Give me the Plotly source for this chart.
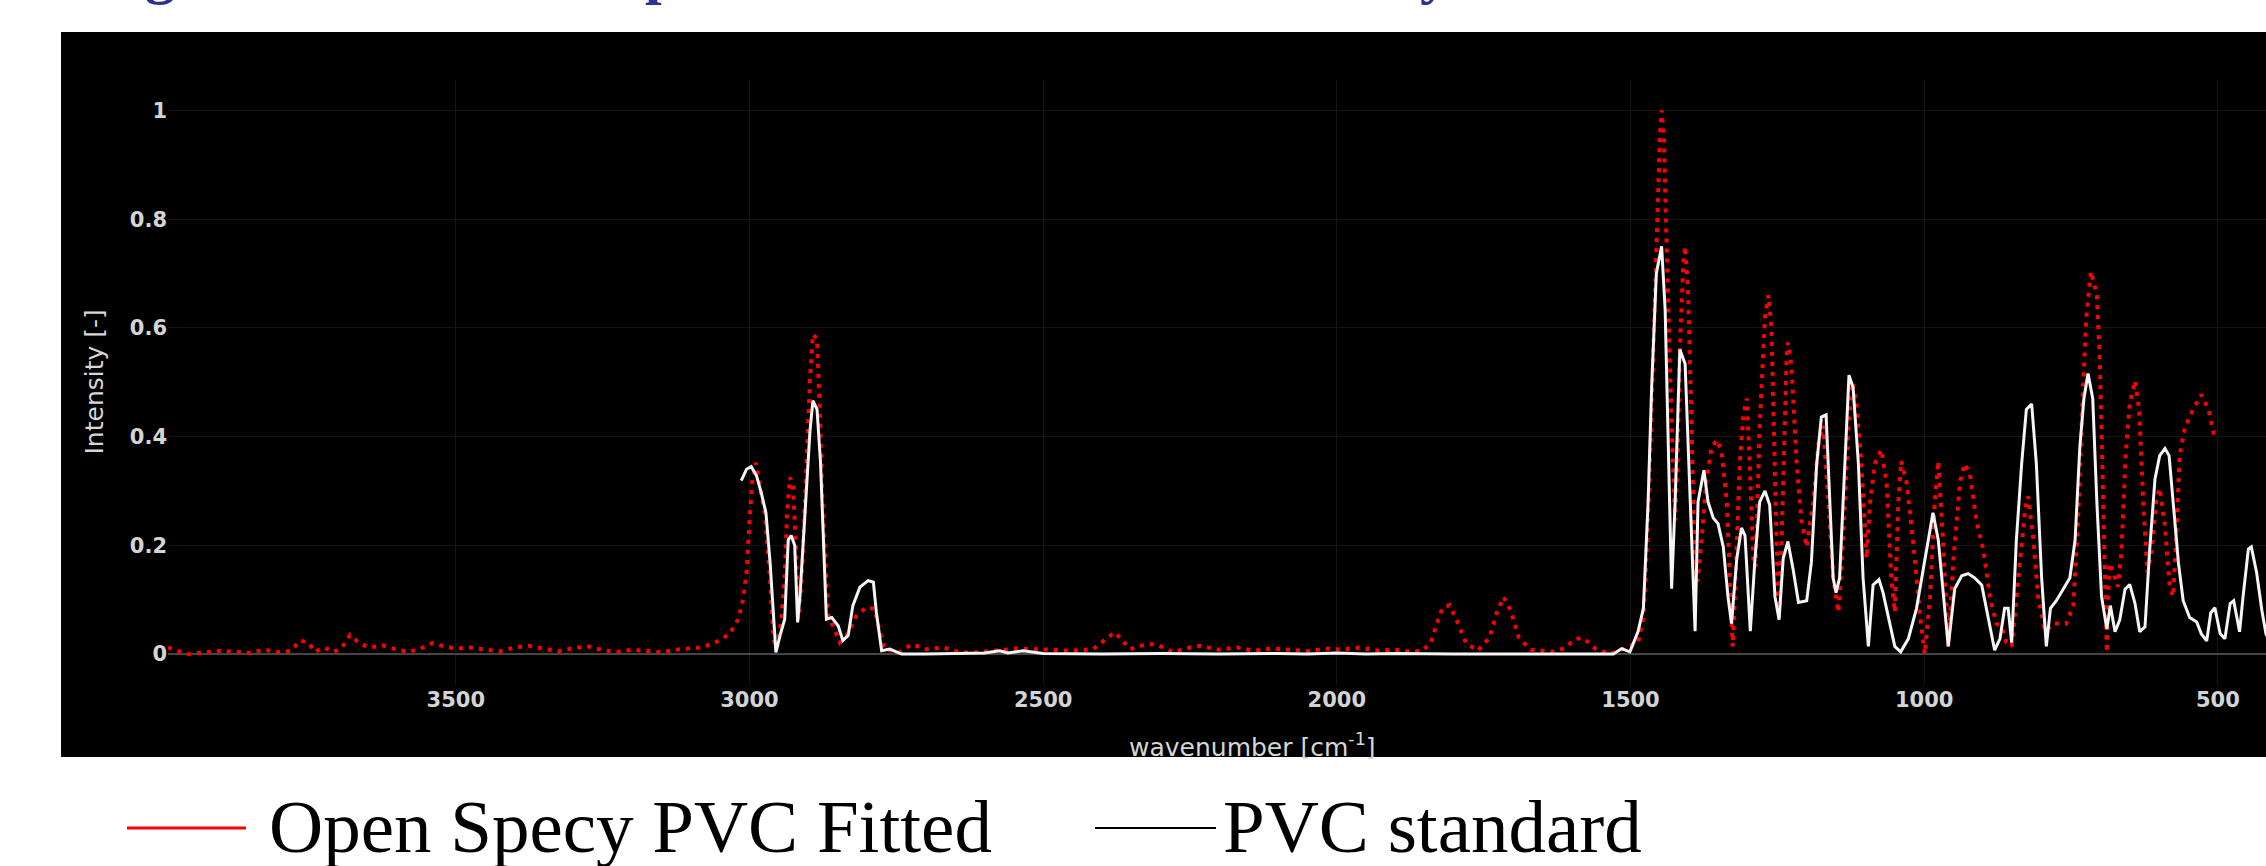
import plotly.graph_objects as go

# ---------------- data ----------------
wn_fit = [3990, 3975, 3955, 3930, 3900, 3875, 3850, 3825, 3800, 3780, 3765, 3750, 3740, 3725, 3708, 3695,
          3680, 3662, 3645, 3625, 3600, 3580, 3560, 3540, 3520, 3500, 3475, 3450, 3425, 3400, 3375, 3350,
          3325, 3300, 3275, 3250, 3225, 3200, 3175, 3150, 3125, 3100,
          3085, 3068, 3051, 3034, 3019, 3011, 3005, 2999, 2995, 2989, 2983, 2974, 2965, 2959, 2954, 2946,
          2940, 2936, 2931, 2926, 2921, 2917, 2911, 2904, 2897, 2892, 2885, 2880, 2876, 2870, 2866, 2858,
          2846, 2835, 2818, 2801, 2787, 2778, 2770, 2744, 2724, 2699, 2670, 2642, 2614, 2585, 2545, 2489,
          2455, 2415, 2392, 2378, 2352, 2324, 2307, 2279, 2250, 2233,
          2200, 2170, 2140, 2110, 2080, 2050, 2020, 1990, 1960, 1930, 1900, 1875, 1855, 1840, 1830, 1820,
          1808, 1795, 1780, 1760, 1740, 1728, 1716, 1704, 1690, 1670, 1650, 1630, 1610, 1598, 1585, 1572,
          1560, 1552, 1535, 1518, 1501, 1487, 1478, 1473, 1467, 1461, 1456, 1450, 1447, 1443, 1440,
          1436, 1430, 1424, 1420, 1416, 1410, 1407, 1402, 1396, 1390, 1386, 1379, 1371, 1362, 1353, 1345,
          1336, 1331, 1326, 1321, 1314, 1308, 1302, 1297, 1291, 1287, 1280, 1271, 1265, 1260, 1254, 1249,
          1246, 1240, 1234, 1232, 1226, 1217, 1209, 1200, 1189, 1180, 1172, 1163, 1155, 1146, 1138, 1129,
          1122, 1115, 1107, 1098, 1092, 1084, 1073, 1064, 1056, 1050, 1044, 1039, 1030, 1019, 1007, 999,
          990, 982, 976, 968, 959, 950, 939, 931, 922, 911, 899, 888, 877, 868, 860, 851,
          846, 837, 828, 823, 814, 806, 794, 780, 758, 746, 738, 731, 724, 716,
          706, 701, 695, 689, 685, 678, 670, 664, 657, 650, 641, 634, 627, 620, 613, 605,
          599, 590, 582, 576, 570, 565, 556, 542, 528, 516, 505]
int_fit = [0.012, 0.006, 0.000, 0.003, 0.006, 0.004, 0.002, 0.008, 0.003, 0.006, 0.025, 0.020, 0.004, 0.012, 0.004, 0.010,
           0.035, 0.018, 0.012, 0.016, 0.008, 0.004, 0.010, 0.020, 0.014, 0.010, 0.012, 0.008, 0.005, 0.012, 0.015, 0.010,
           0.005, 0.011, 0.014, 0.007, 0.004, 0.008, 0.006, 0.003, 0.008, 0.010,
           0.012, 0.017, 0.025, 0.037, 0.064, 0.100, 0.150, 0.260, 0.320, 0.352, 0.310, 0.260, 0.140, 0.028, 0.010, 0.060,
           0.140, 0.260, 0.325, 0.310, 0.200, 0.064, 0.140, 0.320, 0.505, 0.588, 0.580, 0.440, 0.290, 0.150, 0.070, 0.052,
           0.021, 0.034, 0.070, 0.086, 0.083, 0.040, 0.009, 0.003, 0.018, 0.009, 0.012, 0.003, 0.003, 0.006, 0.010, 0.008,
           0.006, 0.009, 0.028, 0.040, 0.009, 0.018, 0.018, 0.003, 0.012, 0.015,
           0.008, 0.012, 0.006, 0.010, 0.008, 0.005, 0.010, 0.008, 0.012, 0.006, 0.008, 0.004, 0.006, 0.020, 0.055, 0.085,
           0.090, 0.060, 0.020, 0.006, 0.030, 0.075, 0.105, 0.080, 0.030, 0.008, 0.006, 0.004, 0.012, 0.025, 0.030, 0.022,
           0.010, 0.007, 0.000, 0.007, 0.014, 0.021, 0.070, 0.176, 0.350, 0.560, 0.770, 0.950, 1.000, 0.950, 0.810,
           0.630, 0.420, 0.246, 0.350, 0.560, 0.720, 0.750, 0.670, 0.420, 0.140, 0.134, 0.210, 0.316, 0.380, 0.394, 0.373,
           0.280, 0.140, 0.014, 0.140, 0.350, 0.436, 0.470, 0.350, 0.176, 0.160, 0.420, 0.620, 0.660, 0.600, 0.350, 0.105,
           0.084, 0.350, 0.550, 0.573, 0.530, 0.350, 0.246, 0.197, 0.280, 0.387, 0.420, 0.280, 0.140, 0.077, 0.210, 0.420,
           0.500, 0.457, 0.350, 0.176, 0.280, 0.350, 0.376, 0.316, 0.140, 0.077, 0.280, 0.355, 0.316, 0.210, 0.070, 0.000,
           0.105, 0.280, 0.355, 0.210, 0.014, 0.176, 0.316, 0.350, 0.330, 0.246, 0.190, 0.105, 0.056, 0.050, 0.021, 0.014,
           0.070, 0.176, 0.267, 0.290, 0.210, 0.105, 0.042, 0.056, 0.056, 0.090, 0.250, 0.450, 0.620, 0.704,
           0.660, 0.540, 0.280, 0.003, 0.167, 0.150, 0.124, 0.190, 0.365, 0.460, 0.503, 0.450, 0.280, 0.150, 0.190, 0.280,
           0.305, 0.236, 0.124, 0.106, 0.236, 0.365, 0.417, 0.450, 0.477, 0.450, 0.395]

wn_std = [3014, 3005, 2997, 2988, 2980, 2972, 2965, 2960, 2955, 2948, 2940, 2934, 2929, 2923, 2918, 2914,
          2906, 2897, 2892, 2885, 2879, 2874, 2869, 2860, 2849, 2841, 2832, 2824, 2812, 2798, 2789, 2784,
          2775, 2761, 2741, 2700, 2600, 2574, 2560, 2534, 2500, 2400, 2300, 2200, 2100, 2050, 2000, 1950,
          1900, 1800, 1700, 1600,
          1586, 1529, 1515, 1501, 1487, 1478, 1470, 1464, 1456, 1447, 1441, 1436, 1430, 1424, 1416, 1407,
          1402, 1396, 1390, 1385, 1375, 1368, 1359, 1351, 1342, 1334, 1328, 1319, 1311, 1305, 1296, 1288,
          1280, 1271, 1263, 1254, 1247, 1240, 1232, 1223, 1214, 1200, 1192, 1183, 1175, 1167, 1160, 1155,
          1150, 1144, 1135, 1128, 1121, 1112, 1104, 1095, 1087, 1077, 1070, 1058, 1050, 1040, 1027, 1013,
          996, 985, 976, 967, 959, 948, 936, 925, 914, 902, 891, 880, 871, 863, 857, 851,
          843, 834, 826, 817, 809, 800, 792, 785, 775, 763, 752, 743, 735, 728, 721, 713,
          706, 698, 689, 683, 675, 667, 658, 650, 641, 633, 624, 616, 607, 599, 590, 583,
          576, 567, 559, 548, 536, 528, 519, 512, 505, 496, 488, 479, 473, 463, 457, 448,
          443, 434, 425, 418, 410, 400]
int_std = [0.319, 0.340, 0.345, 0.328, 0.297, 0.260, 0.170, 0.077, 0.003, 0.034, 0.064, 0.210, 0.218, 0.200, 0.058, 0.107,
           0.260, 0.410, 0.466, 0.450, 0.352, 0.200, 0.064, 0.067, 0.052, 0.025, 0.034, 0.089, 0.123, 0.135, 0.132, 0.077,
           0.006, 0.009, 0.000, 0.000, 0.002, 0.006, 0.002, 0.006, 0.001, 0.000, 0.001, 0.000, 0.001, 0.000, 0.002, 0.000,
           0.001, 0.000, 0.000, 0.000,
           0.000, 0.000, 0.010, 0.004, 0.042, 0.084, 0.280, 0.490, 0.700, 0.750, 0.633, 0.420, 0.120, 0.280, 0.560, 0.534,
           0.387, 0.210, 0.042, 0.280, 0.338, 0.280, 0.250, 0.240, 0.197, 0.105, 0.056, 0.176, 0.232, 0.218, 0.042, 0.176,
           0.280, 0.300, 0.274, 0.105, 0.063, 0.176, 0.207, 0.155, 0.095, 0.098, 0.169, 0.350, 0.436, 0.440, 0.280, 0.140,
           0.113, 0.140, 0.350, 0.513, 0.490, 0.350, 0.140, 0.014, 0.127, 0.137, 0.113, 0.056, 0.014, 0.004, 0.028, 0.084,
           0.190, 0.260, 0.210, 0.105, 0.014, 0.120, 0.144, 0.148, 0.140, 0.127, 0.070, 0.007, 0.028, 0.084, 0.084, 0.021,
           0.210, 0.350, 0.450, 0.460, 0.350, 0.140, 0.014, 0.084, 0.098, 0.120, 0.140, 0.210, 0.380, 0.470, 0.516, 0.470,
           0.280, 0.106, 0.046, 0.089, 0.041, 0.063, 0.119, 0.128, 0.093, 0.041, 0.050, 0.193, 0.322, 0.365, 0.378, 0.365,
           0.280, 0.167, 0.098, 0.067, 0.059, 0.037, 0.024, 0.076, 0.085, 0.037, 0.028, 0.093, 0.098, 0.041, 0.106, 0.193,
           0.197, 0.150, 0.080, 0.037, 0.020, 0.010]

y_ticks = [0, 0.2, 0.4, 0.6, 0.8, 1]
y_ticktext = ["0", "0.2", "0.4", "0.6", "0.8", "1"]
legend_names = ["Open Specy PVC Fitted", "PVC standard"]

# ---------------- geometry helpers (pixels -> paper) ----------------
W, H = 2266, 866
L, R, T, B = 168, 0, 80, 181
PW = W - L - R
PH = H - T - B


def px(xp):
    return (xp - L) / PW


def py(yp):
    return (H - B - yp) / PH


fig = go.Figure()
fig.add_trace(go.Scatter(x=wn_fit, y=int_fit, mode="lines", name=legend_names[0],
                         line=dict(color="#ff0000", width=4, dash="4px,6px")))
fig.add_trace(go.Scatter(x=wn_std, y=int_std, mode="lines", name=legend_names[1],
                         line=dict(color="#f5f5f5", width=3)))

tickfont = dict(family="DejaVu Sans", size=21, color="#d4d4d4", weight="bold")
fig.update_layout(
    width=W, height=H,
    margin=dict(l=L, r=R, t=T, b=B, pad=0),
    paper_bgcolor="white", plot_bgcolor="black",
    showlegend=False,
    xaxis=dict(range=[3990, 418], dtick=500, tick0=0, showgrid=True, gridcolor="#141414", gridwidth=1,
               zeroline=False, showline=False, ticks="", tickfont=tickfont),
    yaxis=dict(range=[-0.057, 1.056], tickvals=y_ticks, ticktext=y_ticktext, showgrid=True,
               gridcolor="#141414", gridwidth=1, zeroline=True, zerolinecolor="#454545",
               zerolinewidth=2, showline=False, ticks="", tickfont=tickfont),
)

shapes = [
    dict(type="rect", xref="paper", yref="paper", x0=px(61), x1=1.0, y0=py(757), y1=py(32),
         fillcolor="black", line=dict(width=0), layer="below"),
    dict(type="line", xref="paper", yref="paper", x0=px(127), x1=px(246), y0=py(828), y1=py(828),
         line=dict(color="#ff0000", width=3)),
    dict(type="line", xref="paper", yref="paper", x0=px(1095), x1=px(1216), y0=py(828), y1=py(828),
         line=dict(color="black", width=2)),
]
fig.update_layout(shapes=shapes)

axis_font = dict(family="DejaVu Sans", size=25, color="#d6d6d6")
legend_font = dict(family="Liberation Serif", size=75, color="black")
title_font = dict(family="Liberation Serif", size=60, color="#2e3192", weight="bold")
annotations = [
    dict(text="Intensity [-]", xref="paper", yref="paper", x=px(94), y=0.5, textangle=-90,
         xanchor="center", yanchor="middle", showarrow=False, font=axis_font),
    dict(text="wavenumber [cm<sup>-1</sup>]", xref="paper", yref="paper", x=px(1252), y=py(745),
         xanchor="center", yanchor="middle", showarrow=False, font=axis_font),
    dict(text=legend_names[0], xref="paper", yref="paper", x=px(267), y=py(826),
         xanchor="left", yanchor="middle", showarrow=False, font=legend_font),
    dict(text=legend_names[1], xref="paper", yref="paper", x=px(1221), y=py(826),
         xanchor="left", yanchor="middle", showarrow=False, font=legend_font),
    dict(text="g", xref="paper", yref="paper", x=px(160), y=py(7),
         xanchor="center", yanchor="bottom", showarrow=False, font=title_font),
    dict(text="p", xref="paper", yref="paper", x=px(643), y=py(7),
         xanchor="left", yanchor="bottom", showarrow=False, font=title_font),
    dict(text="y", xref="paper", yref="paper", x=px(1418), y=py(7),
         xanchor="left", yanchor="bottom", showarrow=False, font=title_font),
]
fig.update_layout(annotations=annotations)

fig.write_html("out.html")
